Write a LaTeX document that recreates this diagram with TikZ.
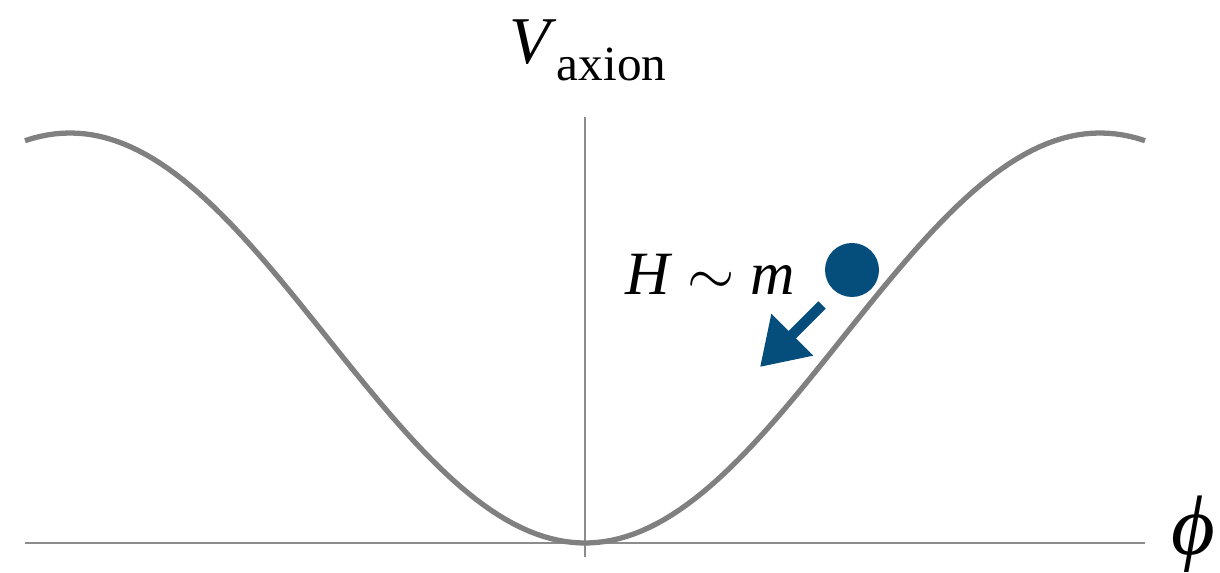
\documentclass[tikz,border=0pt]{standalone}
\usepackage{fontspec}
\setmainfont{Liberation Serif}
\usetikzlibrary{arrows.meta}
\definecolor{axcurve}{RGB}{128,128,128}
\definecolor{axball}{RGB}{5,78,124}

\begin{document}
\begin{tikzpicture}[x=0.01cm, y=-0.01cm]
\useasboundingbox (0,0) rectangle (1220,573);
%% axes
\draw[black!45, line width=0.35pt] (25,543) -- (1145,543);
\draw[black!45, line width=0.35pt] (585,117) -- (585,557);
%% potential
\draw[axcurve, line width=1.5pt, domain=25:1145, samples=150]
  plot (\x, {543-205*(1-cos((\x-585)/515*180))});
%% labels
\node (vlab) at (588,50) {\fontsize{19}{22}\selectfont\textit{V}\raisebox{-4.8pt}{\fontsize{14}{16}\selectfont axion}};
\node[inner sep=1pt] (philab) at (1193,534) {\fontsize{24}{27}\selectfont\textit{ϕ}};
\node (hlab) at (710,274) {\fontsize{17.5}{20}\selectfont\textit{H} $\sim$ \textit{m}};
%% ball and its push
\fill[axball] (852,270) circle (27);
\coordinate (arrs) at (822,305);
\coordinate (arre) at (760,367);
\draw[axball, line width=3pt, -{Triangle[length=13pt,width=16pt]}] (arrs) -- (arre);
\end{tikzpicture}
\end{document}
